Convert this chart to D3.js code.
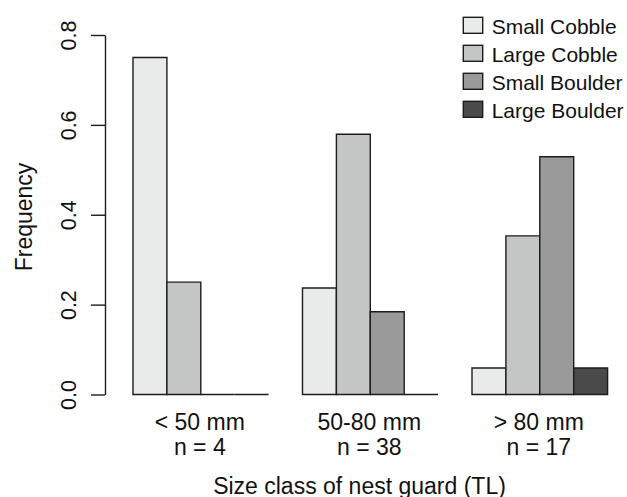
<!DOCTYPE html>
<html>
<head>
<meta charset="utf-8">
<script src="https://cdn.jsdelivr.net/npm/d3@7"></script>
<style>
  html, body { margin: 0; padding: 0; background: #fff; }
  svg { display: block; font-family: "Liberation Sans", Arial, Helvetica, sans-serif; }
</style>
</head>
<body>
<svg id="chart" width="627" height="497"></svg>
<script>
// data
const groups = ["< 50 mm", "50-80 mm", "> 80 mm"];
const groupN = ["n = 4", "n = 38", "n = 17"];
const substrates = ["Small Cobble", "Large Cobble", "Small Boulder", "Large Boulder"];
const smallCobble = [0.75, 0.237, 0.059];
const largeCobble = [0.25, 0.579, 0.353];
const smallBoulder = [0, 0.184, 0.529];
const largeBoulder = [0, 0, 0.059];
const yTicks = [0, 0.2, 0.4, 0.6, 0.8];
const fills = ["#e9ebea", "#c4c6c5", "#9a9a9a", "#4a4a4a"];

const series = [smallCobble, largeCobble, smallBoulder, largeBoulder];
const rows = groups.map((g, i) => ({
  group: g,
  values: substrates.map((s, j) => ({ key: s, value: series[j][i] }))
}));

const svg = d3.select("#chart");
const stroke = "#1c1c1c";

const x0 = d3.scaleBand().domain(groups).range([133, 607.6]).paddingInner(0.2).paddingOuter(0);
const x1 = d3.scaleBand().domain(substrates).range([0, x0.bandwidth()]);
const y = d3.scaleLinear().domain([0, 0.8]).range([394.5, 35]);
const color = d3.scaleOrdinal().domain(substrates).range(fills);

// bars (paths so zero-height bars still show as a line)
const g = svg.append("g");
g.selectAll("g.grp")
  .data(rows)
  .enter().append("g")
  .attr("class", "grp")
  .attr("transform", d => `translate(${x0(d.group)},0)`)
  .selectAll("path")
  .data(d => d.values)
  .enter().append("path")
  .attr("d", d => {
    const xa = x1(d.key), xb = xa + x1.bandwidth();
    return `M${xa},${y(0)}V${y(d.value)}H${xb}V${y(0)}Z`;
  })
  .attr("fill", d => color(d.key))
  .attr("stroke", stroke)
  .attr("stroke-width", 1.4);

// y axis
const yAxis = svg.append("g")
  .attr("transform", "translate(105,0)")
  .call(d3.axisLeft(y).tickValues(yTicks).tickFormat(d3.format(".1f")).tickSize(14).tickSizeOuter(0));
yAxis.select(".domain").attr("stroke", stroke).attr("stroke-width", 1.4);
yAxis.selectAll(".tick line").attr("stroke", stroke).attr("stroke-width", 1.4);
yAxis.selectAll(".tick text")
  .attr("x", null).attr("dy", null)
  .attr("transform", "translate(-29,0) rotate(-90)")
  .attr("text-anchor", "middle")
  .attr("font-size", 21.5)
  .attr("fill", "#111")
  .attr("font-family", "Liberation Sans, Arial, sans-serif");

svg.append("text")
  .attr("transform", "translate(32,217) rotate(-90)")
  .attr("text-anchor", "middle")
  .attr("font-size", 23)
  .attr("fill", "#111")
  .text("Frequency");

// group labels
const lab = svg.append("g").selectAll("g")
  .data(groups)
  .enter().append("g")
  .attr("transform", d => `translate(${x0(d) + x0.bandwidth() / 2 - 1},0)`);
lab.append("text")
  .attr("y", 430)
  .attr("text-anchor", "middle")
  .attr("font-size", 23)
  .attr("fill", "#111")
  .text(d => d);
lab.append("text")
  .attr("y", 455)
  .attr("text-anchor", "middle")
  .attr("font-size", 23)
  .attr("fill", "#111")
  .text((d, i) => groupN[i]);

svg.append("text")
  .attr("x", 359.5)
  .attr("y", 494)
  .attr("text-anchor", "middle")
  .attr("font-size", 23)
  .attr("fill", "#111")
  .text("Size class of nest guard (TL)");

// legend
const ly = d3.scalePoint().domain(substrates).range([25.3, 109.3]);
const leg = svg.append("g").selectAll("g")
  .data(substrates)
  .enter().append("g")
  .attr("transform", d => `translate(463.3,${ly(d)})`);
leg.append("rect")
  .attr("x", 0).attr("y", -8)
  .attr("width", 19.4).attr("height", 16)
  .attr("fill", d => color(d))
  .attr("stroke", stroke)
  .attr("stroke-width", 1.4);
leg.append("text")
  .attr("x", 28.4)
  .attr("y", 8.5)
  .attr("font-size", 21)
  .attr("fill", "#111")
  .text(d => d);
</script>
</body>
</html>
